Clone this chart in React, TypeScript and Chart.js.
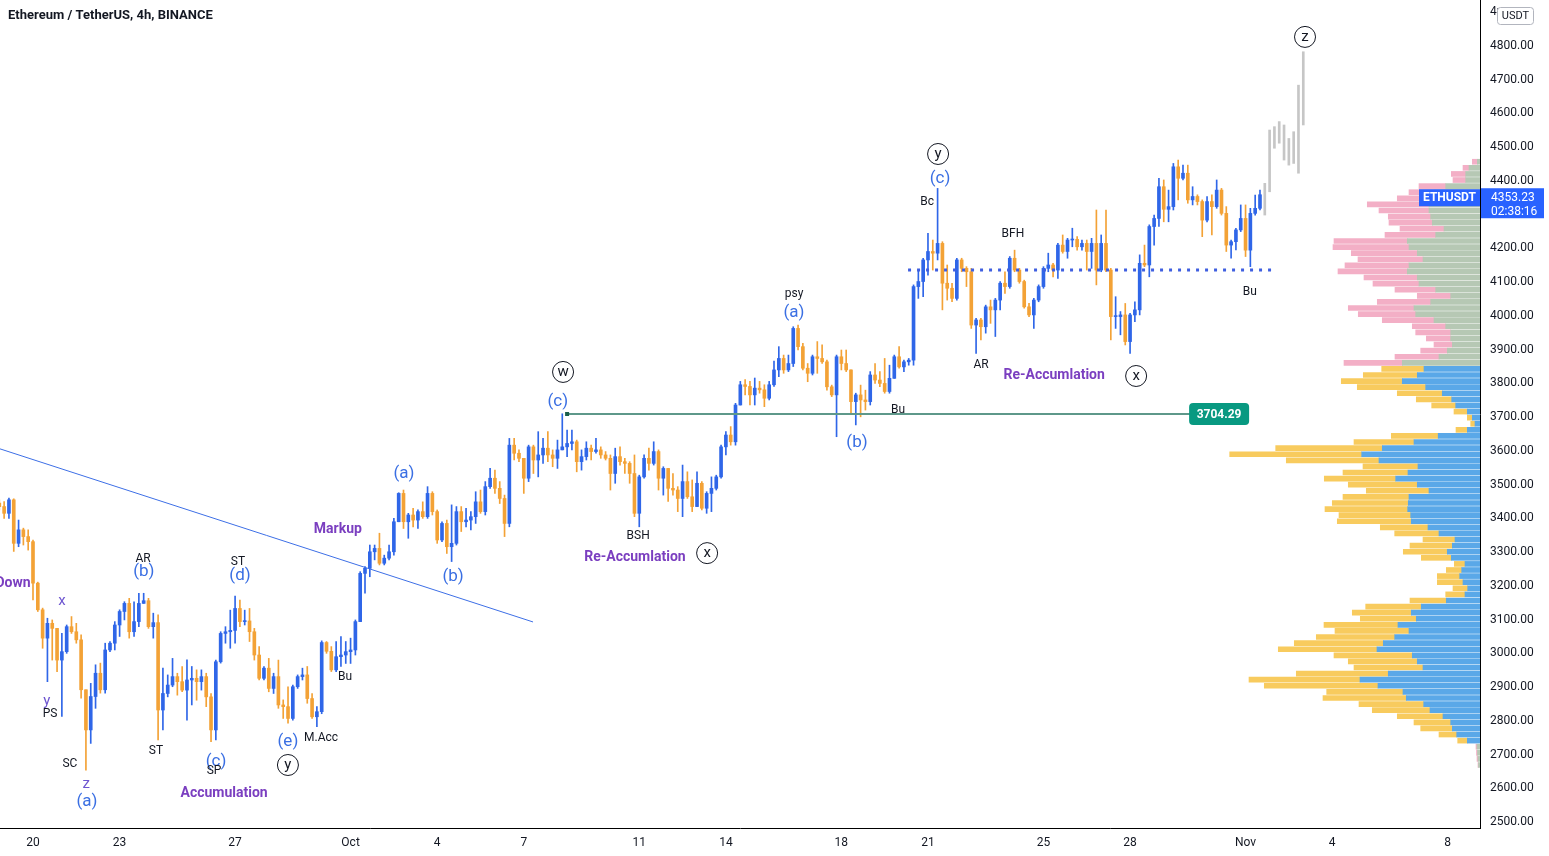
import React, { useEffect, useRef } from 'react';
import { Chart, registerables } from 'chart.js';

Chart.register(...registerables);

const W = 1549;
const H = 856;
const FONT = "Roboto, 'Noto Sans', sans-serif";

// ---- candles: 4h bars, bar index 0 = 20 Sep 00:00 ----
const BARS_PER_DAY = 6;
const FIRST_BAR = -7;
const FIRST_OPEN = 3439;

const CLOSES = [
  3429, 3409, 3449, 3320, 3360, 3340, 3325, 3202, 3123, 3039,
  3083, 3068, 2974, 2999, 3073, 3058, 3034, 2886, 2767, 2866,
  2935, 2886, 3004, 3024, 3078, 3118, 3142, 3058, 3088, 3142,
  3150, 3073, 3085, 2826, 2875, 2900, 2925, 2910, 2885, 2915,
  2920, 2910, 2925, 2865, 2767, 2969, 3053, 3058, 3062, 3127,
  3088, 3090, 3058, 2989, 2920, 2950, 2890, 2925, 2841, 2836,
  2801, 2895, 2925, 2930, 2860, 2806, 2821, 3026, 3000, 2945,
  2984, 2989, 2999, 3004, 3088, 3231, 3246, 3295, 3305, 3261,
  3276, 3295, 3384, 3468, 3384, 3404, 3389, 3414, 3399, 3468,
  3414, 3330, 3379, 3310, 3320, 3414, 3384, 3389, 3399, 3443,
  3414, 3488, 3513, 3483, 3453, 3379, 3611, 3587, 3572, 3513,
  3606, 3567, 3582, 3602, 3582, 3572, 3597, 3606, 3616, 3621,
  3562, 3577, 3602, 3592, 3597, 3582, 3572, 3527, 3577, 3562,
  3557, 3527, 3409, 3517, 3572, 3557, 3592, 3513, 3542, 3483,
  3478, 3453, 3503, 3458, 3429, 3498, 3424, 3468, 3483, 3517,
  3606, 3641, 3621, 3730, 3790, 3785, 3760, 3780, 3775, 3750,
  3790, 3834, 3868, 3834, 3853, 3957, 3903, 3839, 3824, 3873,
  3868, 3858, 3784, 3760, 3873, 3853, 3834, 3740, 3760, 3745,
  3740, 3819, 3804, 3794, 3770, 3809, 3873, 3843, 3858, 3863,
  4081, 4096, 4160, 4185, 4180, 4209, 4091, 4076, 4046, 4160,
  4135, 4125, 3967, 3982, 3962, 4021, 4012, 4041, 4091, 4081,
  4165, 4130, 4096, 4021, 3997, 4041, 4081, 4135, 4145, 4130,
  4204, 4185, 4219, 4221, 4199, 4209, 4185, 4209, 4130, 4209,
  4130, 3992, 3992, 3997, 3918, 3997, 4012, 4150, 4145, 4259,
  4283, 4377, 4310, 4318, 4436, 4402, 4417, 4338, 4348, 4333,
  4278, 4333, 4318, 4367, 4298, 4204, 4214, 4249, 4283, 4189,
  4298, 4313, 4353.23,
];

const HIGHS = [
  3449, 3444, 3454, 3452, 3389, 3365, 3360, 3330, 3205, 3128,
  3098, 3093, 3068, 3053, 3078, 3103, 3083, 3049, 2886, 2905,
  2960, 2965, 3024, 3029, 3088, 3123, 3147, 3157, 3147, 3172,
  3172, 3157, 3113, 3108, 2950, 2930, 2979, 2935, 2955, 2975,
  2955, 2945, 2945, 2935, 2875, 2974, 3058, 3073, 3122, 3164,
  3152, 3122, 3127, 3068, 3014, 2955, 2979, 2935, 2974, 2856,
  2895, 2900, 2930, 2950, 2955, 2875, 2836, 3031, 3029, 3014,
  3029, 3044, 3029, 3039, 3093, 3236, 3251, 3315, 3315, 3350,
  3285, 3315, 3394, 3470, 3478, 3409, 3424, 3419, 3443, 3488,
  3473, 3419, 3384, 3389, 3434, 3429, 3429, 3424, 3414, 3473,
  3478, 3503, 3542, 3537, 3503, 3463, 3631, 3631, 3597, 3572,
  3611, 3611, 3651, 3631, 3651, 3597, 3626, 3704, 3656, 3656,
  3626, 3597, 3621, 3611, 3631, 3606, 3592, 3582, 3602, 3606,
  3572, 3562, 3582, 3522, 3582, 3602, 3621, 3597, 3547, 3542,
  3527, 3488, 3552, 3532, 3508, 3532, 3503, 3473, 3517, 3522,
  3611, 3651, 3666, 3735, 3800, 3805, 3800, 3810, 3800, 3790,
  3800, 3860, 3903, 3878, 3878, 3962, 3967, 3913, 3853, 3878,
  3918, 3908, 3863, 3789, 3878, 3893, 3893, 3834, 3765, 3789,
  3774, 3829, 3853, 3829, 3868, 3848, 3878, 3903, 3863, 3868,
  4086, 4130, 4165, 4239, 4219, 4372, 4214, 4145, 4091, 4165,
  4165, 4140, 4135, 3987, 3987, 4026, 4041, 4046, 4096, 4125,
  4170, 4189, 4135, 4100, 4031, 4046, 4086, 4140, 4180, 4150,
  4209, 4234, 4224, 4254, 4229, 4219, 4219, 4224, 4308, 4234,
  4308, 4135, 4051, 4007, 4031, 4002, 4036, 4175, 4204, 4264,
  4293, 4402, 4397, 4367, 4446, 4456, 4441, 4441, 4377, 4353,
  4338, 4348, 4353, 4397, 4372, 4318, 4219, 4254, 4323, 4323,
  4313, 4352, 4367,
];

const LOWS = [
  3419, 3394, 3394, 3296, 3310, 3315, 3300, 3152, 3118, 3009,
  2910, 2974, 2940, 2807, 2994, 3053, 3024, 2861, 2648, 2727,
  2831, 2876, 2876, 2999, 3004, 3044, 3093, 3039, 3044, 3073,
  3142, 3068, 3039, 2737, 2767, 2865, 2895, 2870, 2880, 2796,
  2841, 2855, 2885, 2836, 2732, 2737, 2965, 3024, 3009, 3024,
  3073, 3078, 3029, 2974, 2915, 2915, 2880, 2875, 2831, 2801,
  2787, 2796, 2890, 2915, 2846, 2801, 2777, 2815, 2994, 2940,
  2940, 2955, 2964, 2964, 2989, 3088, 3172, 3221, 3271, 3256,
  3256, 3271, 3285, 3384, 3364, 3335, 3369, 3364, 3394, 3394,
  3404, 3320, 3325, 3290, 3266, 3315, 3355, 3369, 3360, 3379,
  3409, 3404, 3483, 3468, 3438, 3340, 3369, 3567, 3562, 3468,
  3503, 3527, 3517, 3557, 3562, 3547, 3542, 3597, 3577, 3597,
  3532, 3537, 3567, 3567, 3587, 3572, 3567, 3478, 3498, 3552,
  3527, 3498, 3399, 3369, 3513, 3537, 3552, 3478, 3463, 3444,
  3463, 3414, 3399, 3453, 3414, 3473, 3419, 3409, 3414, 3478,
  3513, 3582, 3611, 3611, 3730, 3760, 3730, 3730, 3765, 3725,
  3745, 3785, 3814, 3824, 3829, 3844, 3893, 3834, 3799, 3819,
  3824, 3853, 3774, 3755, 3636, 3834, 3829, 3705, 3671, 3695,
  3715, 3730, 3794, 3784, 3765, 3765, 3809, 3839, 3829, 3848,
  3848, 4046, 4051, 4115, 4130, 4160, 4012, 4041, 4036, 4041,
  4125, 4081, 3957, 3883, 3923, 3943, 3972, 3933, 4012, 4061,
  4076, 4125, 4091, 4017, 3992, 3957, 4036, 4076, 4125, 4110,
  4105, 4180, 4165, 4199, 4189, 4189, 4130, 4135, 4086, 4125,
  4125, 3923, 3957, 3938, 3908, 3883, 3977, 3997, 4140, 4110,
  4204, 4259, 4273, 4273, 4308, 4338, 4397, 4328, 4323, 4323,
  4229, 4273, 4234, 4313, 4293, 4185, 4165, 4190, 4244, 4170,
  4140, 4293, 4308,
];

// projected (grey) bars after the last candle
const PROJ_FIRST_BAR = 256;
const PROJ_LOWS = [4293, 4362, 4491, 4506, 4456, 4441, 4446, 4417, 4560];
const PROJ_HIGHS = [4387, 4545, 4555, 4570, 4560, 4520, 4540, 4678, 4777];

// ---- volume profile (rows from top) ----
const VP_TOP = 4451;
const VP_STEP = 18.06;
const VA_FIRST_ROW = 35;
const VA_LAST_ROW = 96;
const VP_UP = [
  2.7, 11, 14.3, 14.3, 34.3, 45, 51, 51, 51, 49.3,
  47.7, 36, 44.3, 72.7, 71, 62.7, 57, 71, 72.7, 62.7,
  61, 44.3, 29.3, 49.3, 66, 64.3, 46, 34.3, 29.3, 29.3,
  27.7, 32.7, 41, 77.7, 56, 62.7, 77.7, 54.3, 37.7, 28.3,
  24.3, 12.7, 7.7, 5, 12.7, 41.8, 66, 97.7, 118.3, 101,
  62, 72, 84.3, 62.7, 51, 71, 71.7, 72.3, 69.3, 68.7,
  52, 41, 25, 27.7, 32.7, 28.7, 15, 18.3, 20.3, 17,
  12.3, 15, 33.7, 58.7, 68.7, 63.7, 82, 71, 85.3, 96.7,
  103, 67.7, 62.7, 57, 91.7, 120, 102, 77, 73.7, 56.3,
  50, 37, 29.3, 27.7, 23.3, 12.7, 3, 2.5, 2, 1.5,
];
const VP_DOWN = [
  5, 6, 14.4, 12.7, 26.7, 26, 31.7, 61.7, 50, 42.4,
  43.3, 44, 50.7, 73.3, 76, 66, 65, 64, 69.3, 53.3,
  46, 40.7, 33.4, 53.4, 65.7, 57.4, 51.7, 33.4, 35, 24.4,
  18.3, 26.6, 44, 58.3, 42.3, 54, 61, 68.4, 45, 35.4,
  24, 13.3, 5, 4.3, 11.3, 46.9, 60, 106.6, 132, 92.7,
  55, 65, 71.4, 69, 62.7, 66, 76, 82.7, 71.7, 74,
  47.7, 44.3, 32, 42.3, 44, 30, 10.7, 15.4, 22.4, 25.7,
  14.7, 19.3, 36.3, 55.6, 59, 56, 74, 74, 78.4, 89,
  98.7, 78.3, 69, 69, 92, 111, 113.7, 76.3, 83.3, 64.7,
  57.7, 45.7, 36.7, 31.6, 17.7, 9.6, 1, 1, 1, 0.5,
];
const VP_SCALE_MAX = 1480;

// ---- axes ----
const DATE_TICK_DAYS = [0, 3, 7, 11, 14, 17, 21, 24, 28, 31, 35, 38, 42, 45, 49];
const DATE_TICK_LABELS = ['20', '23', '27', 'Oct', '4', '7', '11', '14', '18', '21', '25', '28', 'Nov', '4', '8'];
const DAY_MIN = -1.143;
const DAY_MAX = 50.121;
const PRICE_MIN = 2476.3;
const PRICE_MAX = 4930.4;
const PRICE_STEP = 100;

// ---- drawings ----
const LAST_PRICE = 4353.23;
const COUNTDOWN = '02:38:16';
const SYMBOL = 'ETHUSDT';
const TITLE = 'Ethereum / TetherUS, 4h, BINANCE';
const LEVEL = 3704.29;
const LEVEL_FROM = 18.5;
const LEVEL_TO = 40.08;
const DOTTED_LEVEL = 4130;
const DOTTED_FROM = 30.31;
const DOTTED_TO = 42.92;
const TREND = [[-1.143, 3600], [17.32, 3087]];

const NOTES: [string, number, number, string][] = [
  ['Down', -0.69, 3202, 'phase'],
  ['x', 1.0, 3149, 'sub'],
  ['y', 0.48, 2853, 'sub'],
  ['PS', 0.59, 2814, 'event'],
  ['SC', 1.28, 2666, 'event'],
  ['z', 1.84, 2607, 'sub'],
  ['(a)', 1.87, 2553, 'wave'],
  ['AR', 3.81, 3274, 'event'],
  ['(b)', 3.84, 3235, 'wave'],
  ['ST', 4.26, 2704, 'event'],
  ['ST', 7.1, 3265, 'event'],
  ['(d)', 7.17, 3223, 'wave'],
  ['(c)', 6.34, 2672, 'wave'],
  ['SP', 6.27, 2645, 'event'],
  ['Accumulation', 6.62, 2580, 'phase'],
  ['(e)', 8.83, 2731, 'wave'],
  ['y', 8.83, 2663, 'circle'],
  ['M.Acc', 9.98, 2743, 'event'],
  ['Bu', 10.81, 2924, 'event'],
  ['Markup', 10.56, 3360, 'phase'],
  ['(a)', 12.85, 3525, 'wave'],
  ['(b)', 14.55, 3220, 'wave'],
  ['w', 18.36, 3828, 'circle'],
  ['(c)', 18.18, 3739, 'wave'],
  ['BSH', 20.96, 3342, 'event'],
  ['Re-Accumlation', 20.85, 3277, 'phase'],
  ['x', 23.35, 3291, 'circle'],
  ['psy', 26.36, 4059, 'event'],
  ['(a)', 26.36, 4003, 'wave'],
  ['(b)', 28.54, 3617, 'wave'],
  ['Bu', 29.96, 3715, 'event'],
  ['y', 31.35, 4474, 'circle'],
  ['(c)', 31.42, 4400, 'wave'],
  ['Bc', 30.97, 4332, 'event'],
  ['BFH', 33.94, 4237, 'event'],
  ['AR', 32.84, 3849, 'event'],
  ['Re-Accumlation', 35.37, 3816, 'phase'],
  ['x', 38.21, 3816, 'circle'],
  ['Bu', 42.15, 4065, 'event'],
  ['z', 44.06, 4821, 'circle'],
];

const UP_COLOR = '#2F66E8';
const DOWN_COLOR = '#F3A236';
const VA_UP = '#5AA8E8';
const VA_DOWN = '#F8CB5E';
const OUT_UP = '#B6C8B4';
const OUT_DOWN = '#F3AFC6';
const TEXT = '#131722';

function rrect(ctx: CanvasRenderingContext2D, x: number, y: number, w: number, h: number, r: number) {
  ctx.beginPath();
  if ((ctx as any).roundRect) (ctx as any).roundRect(x, y, w, h, r);
  else ctx.rect(x, y, w, h);
}

const overlayPlugin = {
  id: 'overlay',
  afterDatasetsDraw(chart: any) {
    const { ctx, chartArea } = chart;
    const xs = chart.scales.x;
    const ys = chart.scales.y;
    const X = (t: number) => xs.getPixelForValue(t);
    const Y = (p: number) => ys.getPixelForValue(p);
    ctx.save();
    ctx.beginPath();
    ctx.rect(chartArea.left, chartArea.top, chartArea.right - chartArea.left, chartArea.bottom - chartArea.top);
    ctx.clip();

    // trend line
    ctx.strokeStyle = '#3D6FE6';
    ctx.lineWidth = 1;
    ctx.beginPath();
    ctx.moveTo(X(TREND[0][0]), Y(TREND[0][1]));
    ctx.lineTo(X(TREND[1][0]), Y(TREND[1][1]));
    ctx.stroke();

    // horizontal level
    const ly = Math.round(Y(LEVEL));
    ctx.strokeStyle = '#5E988A';
    ctx.lineWidth = 2;
    ctx.beginPath();
    ctx.moveTo(X(LEVEL_FROM), ly);
    ctx.lineTo(X(LEVEL_TO), ly);
    ctx.stroke();
    ctx.fillStyle = '#1B5E4A';
    ctx.fillRect(X(LEVEL_FROM) - 2, ly - 2, 4, 4);
    const bx = X(LEVEL_TO);
    ctx.fillStyle = '#089981';
    rrect(ctx, bx - 1, ly - 11, 60, 22, 4);
    ctx.fill();
    ctx.fillStyle = '#ffffff';
    ctx.font = `bold 12px ${FONT}`;
    ctx.textAlign = 'center';
    ctx.textBaseline = 'middle';
    ctx.fillText(LEVEL.toFixed(2), bx + 29, ly + 1);

    // dotted level
    const dy = Y(DOTTED_LEVEL);
    ctx.strokeStyle = '#3F5FE0';
    ctx.lineWidth = 3;
    ctx.setLineDash([3, 6]);
    ctx.beginPath();
    ctx.moveTo(X(DOTTED_FROM), dy);
    ctx.lineTo(X(DOTTED_TO), dy);
    ctx.stroke();
    ctx.setLineDash([]);

    // notes
    for (const [text, t, p, kind] of NOTES) {
      const px = X(t);
      const py = Y(p);
      ctx.textAlign = 'center';
      ctx.textBaseline = 'middle';
      if (kind === 'phase') {
        ctx.font = `bold 14px ${FONT}`;
        ctx.fillStyle = '#7B3FC0';
        ctx.fillText(text, px, py);
      } else if (kind === 'wave') {
        ctx.font = `17px ${FONT}`;
        ctx.fillStyle = '#3A6FE3';
        ctx.fillText(text, px, py);
      } else if (kind === 'sub') {
        ctx.font = `15px ${FONT}`;
        ctx.fillStyle = '#6D55D0';
        ctx.fillText(text, px, py);
      } else if (kind === 'event') {
        ctx.font = `12px ${FONT}`;
        ctx.fillStyle = TEXT;
        ctx.fillText(text, px, py);
      } else if (kind === 'circle') {
        ctx.strokeStyle = TEXT;
        ctx.lineWidth = 1;
        ctx.beginPath();
        ctx.arc(px, py, 10.5, 0, Math.PI * 2);
        ctx.stroke();
        ctx.font = `15px ${FONT}`;
        ctx.fillStyle = TEXT;
        ctx.fillText(text, px, py + 0.5);
      }
    }
    ctx.restore();
  },
  afterDraw(chart: any) {
    const { ctx, chartArea } = chart;
    const ys = chart.scales.y;
    const py = ys.getPixelForValue(LAST_PRICE);
    ctx.save();
    // title
    ctx.font = `bold 13px ${FONT}`;
    ctx.fillStyle = TEXT;
    ctx.textAlign = 'left';
    ctx.textBaseline = 'middle';
    ctx.fillText(TITLE, 8, 16);

    // symbol label
    ctx.fillStyle = '#2962FF';
    ctx.fillRect(chartArea.right - 61, py - 5.5, 61, 17);
    ctx.fillStyle = '#ffffff';
    ctx.font = `bold 12px ${FONT}`;
    ctx.textAlign = 'center';
    ctx.fillText(SYMBOL, chartArea.right - 30.5, py + 3);

    // price box
    ctx.fillStyle = '#2962FF';
    ctx.fillRect(chartArea.right + 1, py - 6.5, 63, 30);
    ctx.fillStyle = '#ffffff';
    ctx.font = `12px ${FONT}`;
    ctx.textAlign = 'left';
    ctx.fillText(LAST_PRICE.toFixed(2), chartArea.right + 11, py + 3);
    ctx.fillText(COUNTDOWN, chartArea.right + 11, py + 17);

    // currency box (hides the clipped top price label)
    ctx.fillStyle = '#ffffff';
    ctx.fillRect(1496, 0, W - 1496, 8);
    rrect(ctx, 1497.5, 7.5, 36, 17, 3);
    ctx.fill();
    ctx.strokeStyle = '#B2B5BE';
    ctx.lineWidth = 1;
    ctx.stroke();
    ctx.fillStyle = TEXT;
    ctx.font = `11px ${FONT}`;
    ctx.textAlign = 'center';
    ctx.fillText('USDT', 1515.5, 16.5);
    ctx.restore();
  },
};

export default function App() {
  const canvasRef = useRef<HTMLCanvasElement | null>(null);

  useEffect(() => {
    const prevMargin = document.body.style.margin;
    document.body.style.margin = '0';
    const canvas = canvasRef.current;
    if (!canvas) return;

    const opens = CLOSES.map((c, i) => (i === 0 ? FIRST_OPEN : CLOSES[i - 1]));
    const times = CLOSES.map((_, i) => (FIRST_BAR + i) / BARS_PER_DAY);
    const colors = CLOSES.map((c, i) => (c >= opens[i] ? UP_COLOR : DOWN_COLOR));
    const bodies = CLOSES.map((c, i) => ({ x: times[i], y: [Math.min(opens[i], c), Math.max(opens[i], c)] }));
    const wicks = CLOSES.map((c, i) => ({
      x: times[i],
      y: [Math.min(LOWS[i], opens[i], c), Math.max(HIGHS[i], opens[i], c)],
    }));
    const proj = PROJ_LOWS.map((l, i) => ({ x: (PROJ_FIRST_BAR + i) / BARS_PER_DAY, y: [l, PROJ_HIGHS[i]] }));
    const rowPrice = VP_UP.map((_, i) => VP_TOP - i * VP_STEP);
    const inVA = (i: number) => i + 1 >= VA_FIRST_ROW && i + 1 <= VA_LAST_ROW;
    const vpUp = VP_UP.map((u, i) => ({ y: rowPrice[i], x: [0, u] }));
    const vpDown = VP_DOWN.map((d, i) => ({ y: rowPrice[i], x: [VP_UP[i], VP_UP[i] + d] }));

    const chart = new Chart(canvas, {
      type: 'bar',
      data: {
        datasets: [
          {
            label: 'body',
            data: bodies,
            xAxisID: 'x',
            yAxisID: 'y',
            backgroundColor: colors,
            barThickness: 3,
            minBarLength: 1,
            grouped: false,
            order: 1,
          },
          {
            label: 'wick',
            data: wicks,
            xAxisID: 'x',
            yAxisID: 'y',
            backgroundColor: colors,
            barThickness: 1,
            grouped: false,
            order: 2,
          },
          {
            label: 'projection',
            data: proj,
            xAxisID: 'x',
            yAxisID: 'y',
            backgroundColor: '#C6C6C6',
            barThickness: 2,
            grouped: false,
            order: 3,
          },
          {
            label: 'vpUp',
            data: vpUp,
            indexAxis: 'y',
            xAxisID: 'xv',
            yAxisID: 'y',
            backgroundColor: VP_UP.map((_, i) => (inVA(i) ? VA_UP : OUT_UP)),
            barThickness: 5,
            grouped: false,
            order: 10,
          },
          {
            label: 'vpDown',
            data: vpDown,
            indexAxis: 'y',
            xAxisID: 'xv',
            yAxisID: 'y',
            backgroundColor: VP_DOWN.map((_, i) => (inVA(i) ? VA_DOWN : OUT_DOWN)),
            barThickness: 5,
            grouped: false,
            order: 11,
          },
        ] as any,
      },
      options: {
        responsive: false,
        animation: false,
        devicePixelRatio: 1,
        events: [],
        layout: { padding: 0 },
        plugins: { legend: { display: false }, tooltip: { enabled: false }, title: { display: false } },
        scales: {
          x: {
            type: 'linear',
            axis: 'x',
            position: 'bottom',
            min: DAY_MIN,
            max: DAY_MAX,
            offset: false,
            grid: { display: false, drawTicks: false },
            border: { display: true, color: '#000000', width: 1 },
            afterFit: (s: any) => {
              s.height = 28;
              s.paddingLeft = 0;
              s.paddingRight = 0;
            },
            afterBuildTicks: (s: any) => { s.ticks = DATE_TICK_DAYS.map((v) => ({ value: v })); },
            ticks: {
              autoSkip: false,
              maxRotation: 0,
              minRotation: 0,
              padding: 8,
              color: TEXT,
              font: { family: FONT, size: 12 },
              callback: (v: any) => DATE_TICK_LABELS[DATE_TICK_DAYS.indexOf(Number(v))] ?? '',
            },
          },
          xv: {
            type: 'linear',
            axis: 'x',
            position: 'bottom',
            display: false,
            reverse: true,
            min: 0,
            max: VP_SCALE_MAX,
            offset: false,
          },
          y: {
            type: 'linear',
            axis: 'y',
            position: 'right',
            min: PRICE_MIN,
            max: PRICE_MAX,
            offset: false,
            beginAtZero: false,
            grid: { display: false, drawTicks: false },
            border: { display: true, color: '#000000', width: 1 },
            afterFit: (s: any) => {
              s.width = 69;
              s.paddingTop = 0;
              s.paddingBottom = 0;
            },
            ticks: {
              stepSize: PRICE_STEP,
              includeBounds: false,
              autoSkip: false,
              padding: 10,
              labelOffset: 2,
              color: TEXT,
              font: { family: FONT, size: 12 },
              callback: (v: any) => Number(v).toFixed(2),
            },
          },
        } as any,
      },
      plugins: [overlayPlugin as any],
    } as any);

    return () => {
      chart.destroy();
      document.body.style.margin = prevMargin;
    };
  }, []);

  return (
    <div style={{ width: W, height: H, position: 'relative', background: '#ffffff' }}>
      <canvas ref={canvasRef} width={W} height={H} style={{ display: 'block', width: W, height: H }} />
    </div>
  );
}
